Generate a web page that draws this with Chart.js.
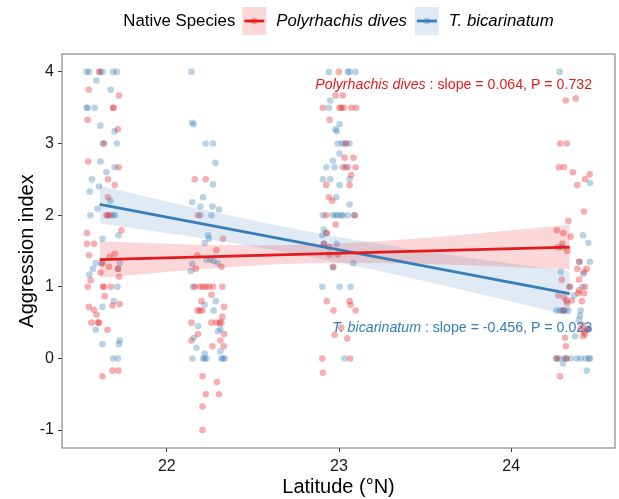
<!DOCTYPE html>
<html><head><meta charset="utf-8">
<script src="https://cdn.jsdelivr.net/npm/chart.js@4.4.1/dist/chart.umd.min.js"></script>
<style>html,body{margin:0;padding:0;background:#fff;}canvas{display:block;}</style>
</head><body>
<canvas id="c" width="619" height="499"></canvas>
<script>
const seriesNames = ['Polyrhachis dives', 'T. bicarinatum'];
const legendTitle = 'Native Species';
const xTicks = [22, 23, 24];
const yTicks = [-1, 0, 1, 2, 3, 4];
const xLabel = 'Latitude (°N)';
const yLabel = 'Aggression index';

// jittered observations [latitude, aggression index] — Polyrhachis dives
const pdSite1 = [[21.606,4],[21.547,3.75],[21.722,3.67],[21.687,3.5],[21.691,3.5],[21.54,3.33],[21.716,3.2],[21.635,3],[21.543,2.75],[21.72,2.67],[21.658,2.5],[21.697,2.42],[21.658,2.25],[21.649,2],[21.658,2],[21.668,2],[21.736,1.79],[21.536,1.75],[21.536,1.6],[21.577,1.6],[21.548,1.44],[21.697,1.46],[21.668,1.42],[21.626,1.33],[21.664,1.28],[21.716,1.25],[21.614,1.2],[21.722,1.14],[21.558,1.09],[21.54,1],[21.629,1],[21.635,1],[21.674,1],[21.639,0.87],[21.684,0.74],[21.726,0.76],[21.547,0.72],[21.577,0.68],[21.591,0.61],[21.562,0.5],[21.6,0.5],[21.606,0.5],[21.655,0.4],[21.684,-0.17],[21.719,-0.17],[21.626,-0.25]];
const pdSite2 = [[22.162,2.5],[22.226,2.5],[22.181,2],[22.326,1.67],[22.288,1.51],[22.176,1.44],[22.317,1.28],[22.168,1.25],[22.162,1],[22.191,1],[22.209,1],[22.226,1],[22.245,1],[22.268,1],[22.322,1],[22.259,0.89],[22.201,0.8],[22.332,0.72],[22.178,0.67],[22.191,0.67],[22.207,0.67],[22.322,0.58],[22.143,0.5],[22.259,0.5],[22.288,0.5],[22.307,0.5],[22.317,0.5],[22.181,0.34],[22.332,0.34],[22.143,0.25],[22.311,0.25],[22.265,0.17],[22.33,0.17],[22.207,-0.25],[22.291,-0.33],[22.226,-0.5],[22.303,-0.5],[22.207,-0.67],[22.207,-1]];
const pdSite3 = [[22.999,4],[22.98,3.67],[23.022,3.67],[22.906,3.5],[23.003,3.5],[23.013,3.5],[23.028,3.5],[23.071,3.5],[23.1,3.5],[22.945,3.33],[23.042,3],[23.032,2.8],[23.084,2.8],[23.022,2.67],[23.051,2.67],[23.096,2.67],[23.071,2.56],[22.926,2.42],[23.061,2.42],[22.941,2.25],[22.961,2.2],[22.926,2],[23.09,2],[22.98,1.87],[22.929,1.75],[22.912,1.6],[22.941,1.56],[22.945,1.45],[22.993,1.45],[22.967,1.28],[22.929,0.8],[23.061,0.8],[23.067,0.75],[22.968,0.67],[23.096,0.67],[23.013,0.43],[22.974,0.33],[23.048,0.28],[22.903,0],[23.065,0],[22.906,-0.2]];
const pdSite4 = [[24.317,3.6],[24.375,3.63],[24.284,3],[24.323,3],[24.278,2.67],[24.307,2.67],[24.359,2.6],[24.456,2.57],[24.429,2.5],[24.384,2.42],[24.423,2.05],[24.332,1.92],[24.265,1.79],[24.303,1.75],[24.346,1.7],[24.297,1.6],[24.272,1.55],[24.326,1.5],[24.397,1.35],[24.384,1.25],[24.439,1.25],[24.423,1.21],[24.294,1.1],[24.394,1.1],[24.34,1],[24.429,1],[24.394,0.95],[24.423,0.91],[24.39,0.91],[24.274,0.88],[24.307,0.85],[24.32,0.81],[24.352,0.81],[24.326,0.77],[24.41,0.8],[24.307,0.67],[24.413,0.47],[24.404,0.41],[24.442,0.41],[24.423,0.38],[24.429,0.34],[24.417,0.31],[24.313,0.29],[24.317,0.17],[24.263,0],[24.32,0],[24.284,-0.25]];

// jittered observations — T. bicarinatum
const tbSite1 = [[21.533,4],[21.548,4],[21.614,4],[21.626,4],[21.687,4],[21.709,4],[21.591,3.88],[21.674,3.75],[21.533,3.5],[21.54,3.5],[21.581,3.5],[21.614,3.25],[21.697,3.17],[21.629,3],[21.71,3],[21.614,2.75],[21.697,2.67],[21.649,2.6],[21.564,2.5],[21.606,2.4],[21.552,2.33],[21.672,2.2],[21.597,2.09],[21.556,2],[21.687,2],[21.697,2],[21.719,1.72],[21.626,1.67],[21.587,1.33],[21.62,1.33],[21.726,1.33],[21.571,1.25],[21.716,1.25],[21.55,1.17],[21.713,1],[21.693,0.8],[21.626,0.72],[21.587,0.4],[21.726,0.25],[21.626,0.2],[21.722,0.2],[21.687,0],[21.716,0]];
const tbSite2 = [[22.143,4],[22.147,3.29],[22.157,3.27],[22.226,3],[22.268,3],[22.282,2.73],[22.268,2.43],[22.21,2.25],[22.147,2.18],[22.195,2.12],[22.265,2.12],[22.303,2.08],[22.195,2],[22.259,2],[22.239,1.72],[22.245,1.67],[22.22,1.61],[22.23,1.38],[22.253,1.38],[22.272,1.36],[22.295,1.33],[22.147,1.32],[22.139,1.22],[22.152,1],[22.22,0.75],[22.284,0.8],[22.272,0.67],[22.181,0.45],[22.311,0.41],[22.297,0.38],[22.157,0.29],[22.172,0.15],[22.311,0.1],[22.22,0.07],[22.149,0],[22.21,0],[22.22,0],[22.23,0],[22.317,0],[22.326,0],[22.336,0]];
const tbSite3 = [[22.941,4],[23.051,4],[23.061,4],[23.096,4],[22.949,3.6],[22.941,3.5],[23.003,3.27],[22.98,3.2],[22.987,3.17],[22.993,3],[23.019,3],[23.032,3],[23.061,3],[23.003,2.86],[22.964,2.76],[22.926,2.67],[22.974,2.67],[23.038,2.67],[22.906,2.5],[22.949,2.5],[23.061,2.5],[23.003,2.42],[22.984,2.25],[23.061,2.15],[22.906,2],[22.964,2],[22.98,2],[22.993,2],[23.013,2],[23.022,2],[23.051,2],[23.09,2],[22.912,1.8],[22.926,1.75],[22.903,1.72],[22.912,1.6],[22.987,1.6],[23.084,1.33],[22.964,1.27],[22.903,1],[23.003,1],[23.067,1],[23.032,0]];
const tbSite4 = [[24.282,4],[24.458,2.45],[24.417,1.72],[24.448,1.61],[24.297,1.55],[24.394,1.35],[24.458,1.35],[24.288,1.21],[24.419,1.18],[24.34,1],[24.413,1],[24.365,0.88],[24.263,0.67],[24.284,0.67],[24.297,0.67],[24.307,0.67],[24.332,0.67],[24.404,0.67],[24.4,0.6],[24.394,0.54],[24.442,0.41],[24.452,0.41],[24.371,0.31],[24.263,0],[24.278,0],[24.307,0],[24.32,0],[24.346,0],[24.381,0],[24.404,0],[24.433,0],[24.452,0],[24.458,0],[24.301,-0.07],[24.439,-0.17]];

// fitted regression lines [latitude, value]
const pdFit = [[21.61, 1.38], [24.34, 1.555]];
const tbFit = [[21.61, 2.15], [24.34, 0.905]];

// 95% confidence bands read at these latitudes
const bandLat = [21.61, 22.0, 22.4, 22.8, 23.2, 23.6, 24.0, 24.34];
const pdLower = [1.125, 1.208, 1.280, 1.324, 1.331, 1.310, 1.277, 1.245];
const pdUpper = [1.635, 1.602, 1.582, 1.588, 1.633, 1.704, 1.790, 1.865];
const tbLower = [1.885, 1.752, 1.603, 1.432, 1.238, 1.023, 0.794, 0.595];
const tbUpper = [2.415, 2.192, 1.977, 1.782, 1.612, 1.463, 1.326, 1.215];

const pdStats = ['0.064', '0.732'];
const tbStats = ['-0.456', '0.023'];

const RED = '#E41A1C', BLUE = '#377EB8';
const FONT = "'Liberation Sans', Arial, Helvetica, sans-serif";
const toXY = a => a.map(p => ({x: p[0], y: p[1]}));
const band = vals => bandLat.map((x, i) => ({x, y: vals[i]}));

const pdAll = [].concat(pdSite1, pdSite2, pdSite3, pdSite4);
const tbAll = [].concat(tbSite1, tbSite2, tbSite3, tbSite4);

const datasets = [
  {type:'line', data: toXY(pdFit), borderColor: RED, borderWidth: 2.8, pointRadius: 0, fill: false, order: 0},
  {type:'line', data: toXY(tbFit), borderColor: BLUE, borderWidth: 2.8, pointRadius: 0, fill: false, order: 0},
  {type:'line', data: band(pdUpper), borderWidth: 0, borderColor: 'rgba(0,0,0,0)', pointRadius: 0, fill: 3, backgroundColor: 'rgba(228,26,28,0.17)', cubicInterpolationMode: 'monotone', order: 1},
  {type:'line', data: band(pdLower), borderWidth: 0, borderColor: 'rgba(0,0,0,0)', pointRadius: 0, fill: false, cubicInterpolationMode: 'monotone', order: 1},
  {type:'line', data: band(tbUpper), borderWidth: 0, borderColor: 'rgba(0,0,0,0)', pointRadius: 0, fill: 5, backgroundColor: 'rgba(55,126,184,0.16)', cubicInterpolationMode: 'monotone', order: 1},
  {type:'line', data: band(tbLower), borderWidth: 0, borderColor: 'rgba(0,0,0,0)', pointRadius: 0, fill: false, cubicInterpolationMode: 'monotone', order: 1},
  {type:'scatter', data: toXY(pdAll), backgroundColor: 'rgba(228,26,28,0.35)', borderWidth: 0, pointRadius: 3.3, order: 2},
  {type:'scatter', data: toXY(tbAll), backgroundColor: 'rgba(55,126,184,0.35)', borderWidth: 0, pointRadius: 3.3, order: 2}
];

const decor = {
  id: 'decor',
  afterDatasetsDraw(chart) {
    const ctx = chart.ctx, a = chart.chartArea;
    const xs = chart.scales.x, ys = chart.scales.y;
    ctx.save();
    const notes = [
      {name: seriesNames[0], stats: pdStats, color: RED, x: 24.47, y: 3.81},
      {name: seriesNames[1], stats: tbStats, color: BLUE, x: 24.47, y: 0.42}
    ];
    notes.forEach(n => {
      const rest = ' : slope = ' + n.stats[0] + ', P = ' + n.stats[1];
      ctx.font = 'italic 14.2px ' + FONT;
      const w1 = ctx.measureText(n.name).width;
      ctx.font = '14.2px ' + FONT;
      const w2 = ctx.measureText(rest).width;
      const xr = xs.getPixelForValue(n.x), yc = ys.getPixelForValue(n.y);
      ctx.fillStyle = n.color;
      ctx.textBaseline = 'middle';
      ctx.textAlign = 'left';
      ctx.font = 'italic 14.2px ' + FONT;
      ctx.fillText(n.name, xr - w1 - w2, yc);
      ctx.font = '14.2px ' + FONT;
      ctx.fillText(rest, xr - w2, yc);
    });
    ctx.strokeStyle = '#7f7f7f';
    ctx.lineWidth = 1.1;
    ctx.strokeRect(a.left, a.top, a.right - a.left, a.bottom - a.top);
    ctx.restore();
  },
  afterDraw(chart) {
    const ctx = chart.ctx, a = chart.chartArea;
    ctx.save();
    ctx.fillStyle = '#000';
    ctx.font = '20px ' + FONT;
    ctx.textAlign = 'center';
    ctx.textBaseline = 'middle';
    ctx.fillText(xLabel, (a.left + a.right) / 2, 487);
    ctx.save();
    ctx.translate(27, (a.top + a.bottom) / 2);
    ctx.rotate(-Math.PI / 2);
    ctx.fillText(yLabel, 0, 0);
    ctx.restore();
    const fs = 16.8;
    ctx.font = fs + 'px ' + FONT;
    const tW = ctx.measureText(legendTitle).width;
    ctx.font = 'italic ' + fs + 'px ' + FONT;
    const w1 = ctx.measureText(seriesNames[0]).width;
    const w2 = ctx.measureText(seriesNames[1]).width;
    const keyW = 24, keyH = 28, g1 = 7, g2 = 10, g3 = 8;
    const total = tW + g1 + keyW + g2 + w1 + g3 + keyW + g2 + w2;
    let x = (a.left + a.right) / 2 - total / 2;
    const yc = 21;
    ctx.textAlign = 'left';
    ctx.font = fs + 'px ' + FONT;
    ctx.fillText(legendTitle, x, yc);
    x += tW + g1;
    const keys = [
      {c: RED, fill: 'rgba(228,26,28,0.17)', pt: 'rgba(228,26,28,0.35)', label: seriesNames[0], w: w1},
      {c: BLUE, fill: 'rgba(55,126,184,0.16)', pt: 'rgba(55,126,184,0.35)', label: seriesNames[1], w: w2}
    ];
    keys.forEach(k => {
      ctx.fillStyle = k.fill;
      ctx.fillRect(x, yc - keyH / 2, keyW, keyH);
      ctx.strokeStyle = k.c;
      ctx.lineWidth = 2.8;
      ctx.beginPath();
      ctx.moveTo(x + 2, yc); ctx.lineTo(x + keyW - 2, yc); ctx.stroke();
      ctx.fillStyle = k.pt;
      ctx.beginPath(); ctx.arc(x + keyW / 2, yc, 3.3, 0, Math.PI * 2); ctx.fill();
      x += keyW + g2;
      ctx.fillStyle = '#000';
      ctx.font = 'italic ' + fs + 'px ' + FONT;
      ctx.fillText(k.label, x, yc);
      x += k.w + g3;
    });
    ctx.restore();
  }
};

new Chart(document.getElementById('c'), {
  type: 'scatter',
  data: {datasets},
  options: {
    responsive: false,
    animation: false,
    devicePixelRatio: 1,
    layout: {padding: {top: 54, right: 3, bottom: 0, left: 0}},
    plugins: {legend: {display: false}, tooltip: {enabled: false}},
    scales: {
      x: {
        type: 'linear', min: 21.391, max: 24.603,
        afterBuildTicks: s => { s.ticks = xTicks.map(v => ({value: v})); },
        afterFit: s => { s.height = 51; },
        ticks: {font: {family: FONT, size: 16}, color: '#1a1a1a', padding: 5, maxRotation: 0},
        grid: {drawOnChartArea: false, drawTicks: true, tickLength: 4, color: '#333', lineWidth: 1},
        border: {display: false}
      },
      y: {
        type: 'linear', min: -1.25, max: 4.25,
        afterBuildTicks: s => { s.ticks = yTicks.map(v => ({value: v})); },
        afterFit: s => { s.width = 62; },
        ticks: {font: {family: FONT, size: 16}, color: '#1a1a1a', padding: 4},
        grid: {drawOnChartArea: false, drawTicks: true, tickLength: 4, color: '#333', lineWidth: 1},
        border: {display: false}
      }
    }
  },
  plugins: [decor]
});
</script>
</body></html>
